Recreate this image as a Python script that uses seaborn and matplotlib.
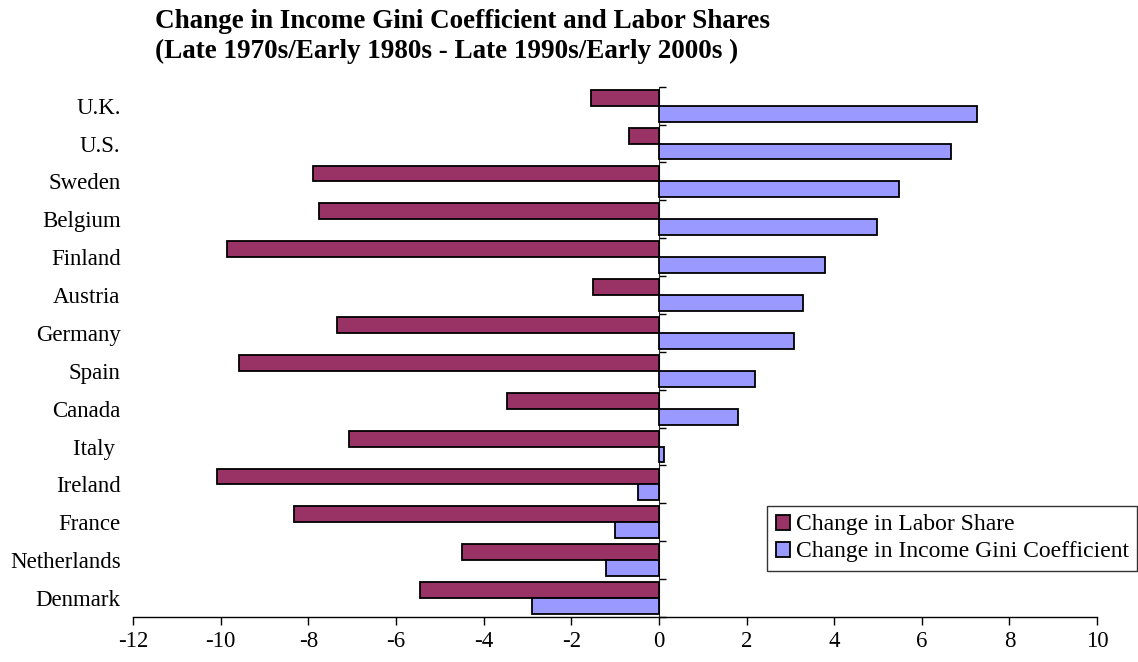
import pandas as pd
import seaborn as sns
import matplotlib.pyplot as plt

# Data
countries = ['U.K.', 'U.S.', 'Sweden', 'Belgium', 'Finland', 'Austria', 'Germany',
             'Spain', 'Canada', 'Italy ', 'Ireland', 'France', 'Netherlands', 'Denmark']
labor_share = [-1.55, -0.68, -7.9, -7.76, -9.86, -1.5, -7.35,
               -9.59, -3.47, -7.08, -10.09, -8.33, -4.5, -5.46]
gini = [7.26, 6.67, 5.48, 4.98, 3.79, 3.29, 3.08,
        2.19, 1.8, 0.11, -0.48, -1.0, -1.21, -2.9]
series_names = ['Change in Labor Share', 'Change in Income Gini Coefficient']
x_ticks = list(range(-12, 11, 2))

sns.set_style('white')
plt.rcParams['font.family'] = ['Liberation Serif', 'DejaVu Serif']
plt.rcParams['text.color'] = 'black'
plt.rcParams['xtick.color'] = 'black'
plt.rcParams['ytick.color'] = 'black'

df = pd.DataFrame({
    'country': countries * 2,
    'value': labor_share + gini,
    'series': [series_names[0]] * len(countries) + [series_names[1]] * len(countries),
})

fig = plt.figure(figsize=(11.38, 6.62), dpi=100)
ax = fig.add_axes([0.117, 0.068, 0.847, 0.801])

sns.barplot(data=df, x='value', y='country', hue='series', order=countries,
            hue_order=series_names, palette=['#993366', '#9999FF'],
            orient='h', width=0.84, edgecolor='black', linewidth=1.3,
            saturation=1, ax=ax)

ax.set_xlim(-12, 10)
ax.set_ylim(len(countries) - 0.5, -0.5)
ax.set_xticks(x_ticks)
ax.set_xticklabels([str(t) for t in x_ticks], fontsize=16.5)
ax.tick_params(axis='x', direction='out', length=6, width=1, pad=4, bottom=True)
ax.tick_params(axis='y', length=0, labelsize=16.5, pad=9)
ax.set_xlabel('')
ax.set_ylabel('')

for side in ['top', 'right', 'left']:
    ax.spines[side].set_visible(False)
ax.spines['bottom'].set_color('black')
ax.spines['bottom'].set_linewidth(1)

# vertical axis line at zero, with ticks between categories
zero_pos = (0 - (-12)) / (10 - (-12))
sec = ax.secondary_yaxis(zero_pos)
sec.set_yticks([i - 0.5 for i in range(len(countries) + 1)])
sec.set_yticklabels([])
sec.tick_params(axis='y', direction='out', length=5, width=1)
sec.spines['left'].set_color('black')
sec.spines['left'].set_linewidth(1)

fig.text(0.136, 0.968, 'Change in Income Gini Coefficient and Labor Shares',
         fontsize=19.5, fontweight='bold', ha='left', va='center')
fig.text(0.136, 0.922, '(Late 1970s/Early 1980s - Late 1990s/Early 2000s )',
         fontsize=19.5, fontweight='bold', ha='left', va='center')

leg = ax.legend(loc='lower right', bbox_to_anchor=(0.999, 0.138),
                bbox_transform=fig.transFigure, fontsize=17, frameon=True,
                fancybox=False, borderpad=0.35, labelspacing=0.25,
                handlelength=0.6, handleheight=0.6, handletextpad=0.25,
                borderaxespad=0)
leg.get_frame().set_edgecolor('black')
leg.get_frame().set_linewidth(1)

fig.savefig('out.png', dpi=100)
